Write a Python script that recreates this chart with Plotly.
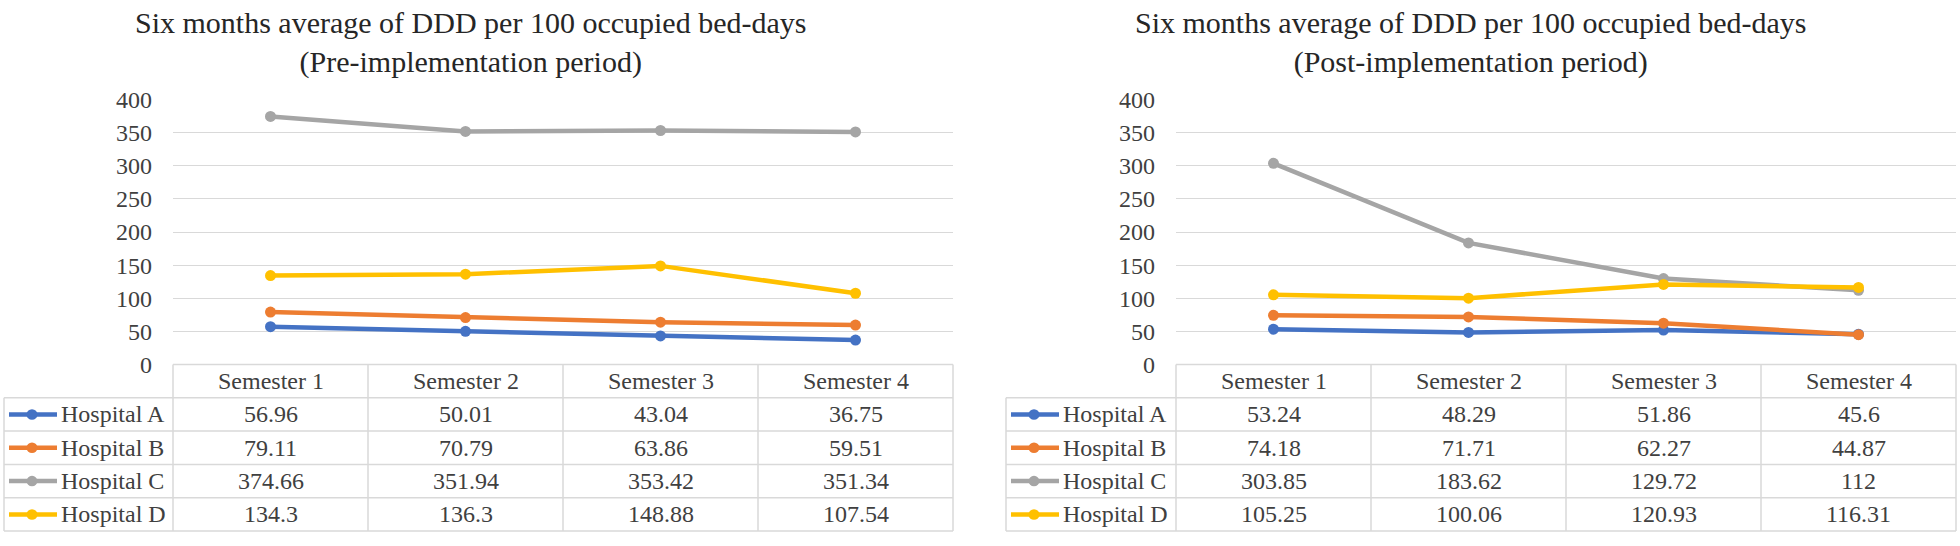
import plotly.graph_objects as go

# ---------------- data ----------------
semesters = ["Semester 1", "Semester 2", "Semester 3", "Semester 4"]
hospitals = ["Hospital A", "Hospital B", "Hospital C", "Hospital D"]

pre_a = [56.96, 50.01, 43.04, 36.75]
pre_b = [79.11, 70.79, 63.86, 59.51]
pre_c = [374.66, 351.94, 353.42, 351.34]
pre_d = [134.3, 136.3, 148.88, 107.54]

post_a = [53.24, 48.29, 51.86, 45.6]
post_b = [74.18, 71.71, 62.27, 44.87]
post_c = [303.85, 183.62, 129.72, 112]
post_d = [105.25, 100.06, 120.93, 116.31]

titles = [
    "Six months average of DDD per 100 occupied bed-days<br>(Pre-implementation period)",
    "Six months average of DDD per 100 occupied bed-days<br>(Post-implementation period)",
]
y_ticks = [0, 50, 100, 150, 200, 250, 300, 350, 400]

colors = ["#4472C4", "#ED7D31", "#A5A5A5", "#FFC000"]

# ---------------- layout helpers ----------------
W, H = 1960, 546
FONT = "Liberation Serif"
TXT = "#404040"
GRID = "#d9d9d9"


def px(x):
    return x / W


def py(y):
    return 1 - y / H


panels = [
    dict(series=[pre_a, pre_b, pre_c, pre_d], tbl_left=4, plot_left=173, title_cx=470),
    dict(series=[post_a, post_b, post_c, post_d], tbl_left=1006, plot_left=1176, title_cx=1470),
]
COLW = 195
ROWS = [369, 404, 439, 474, 509, 544]
Y_TOP, Y_ZERO = 91, 369

fig = go.Figure()
shapes = []
annotations = []

for i, p in enumerate(panels):
    xa = "x" if i == 0 else "x2"
    ya = "y" if i == 0 else "y2"
    for name, vals, col in zip(hospitals, p["series"], colors):
        fig.add_trace(go.Scatter(
            x=list(range(len(semesters))), y=vals, name=name,
            mode="lines+markers", xaxis=xa, yaxis=ya,
            line=dict(color=col, width=4.5),
            marker=dict(color=col, size=11),
            cliponaxis=False, showlegend=False,
        ))

    L = p["plot_left"]
    R = L + COLW * len(semesters)
    T0 = p["tbl_left"]

    # table grid
    shapes.append(dict(type="line", xref="paper", yref="paper",
                       x0=px(L), x1=px(R), y0=py(ROWS[0]), y1=py(ROWS[0]),
                       line=dict(color=GRID, width=1.5)))
    for r in ROWS[1:]:
        shapes.append(dict(type="line", xref="paper", yref="paper",
                           x0=px(T0), x1=px(R), y0=py(r), y1=py(r),
                           line=dict(color=GRID, width=1.5)))
    shapes.append(dict(type="line", xref="paper", yref="paper",
                       x0=px(T0), x1=px(T0), y0=py(ROWS[1]), y1=py(ROWS[-1]),
                       line=dict(color=GRID, width=1.5)))
    for k in range(len(semesters) + 1):
        xx = L + COLW * k
        shapes.append(dict(type="line", xref="paper", yref="paper",
                           x0=px(xx), x1=px(xx), y0=py(ROWS[0]), y1=py(ROWS[-1]),
                           line=dict(color=GRID, width=1.5)))

    # header
    for k, s in enumerate(semesters):
        annotations.append(dict(xref="paper", yref="paper",
                                x=px(L + COLW * k + COLW / 2), y=py((ROWS[0] + ROWS[1]) / 2),
                                text=s, showarrow=False, xanchor="center", yanchor="middle",
                                font=dict(family=FONT, size=24, color=TXT)))
    # rows
    for j, (name, vals, col) in enumerate(zip(hospitals, p["series"], colors)):
        yc = (ROWS[j + 1] + ROWS[j + 2]) / 2
        # legend key
        shapes.append(dict(type="line", xref="paper", yref="paper",
                           x0=px(T0 + 5), x1=px(T0 + 53), y0=py(yc), y1=py(yc),
                           line=dict(color=col, width=4.5)))
        shapes.append(dict(type="circle", xref="paper", yref="paper",
                           x0=px(T0 + 22.5), x1=px(T0 + 33.5), y0=py(yc - 5.5), y1=py(yc + 5.5),
                           fillcolor=col, line=dict(color=col, width=0)))
        annotations.append(dict(xref="paper", yref="paper",
                                x=px(T0 + 55), y=py(yc), text=name, showarrow=False,
                                xanchor="left", yanchor="middle",
                                font=dict(family=FONT, size=24, color=TXT)))
        for k, v in enumerate(vals):
            annotations.append(dict(xref="paper", yref="paper",
                                    x=px(L + COLW * k + COLW / 2), y=py(yc),
                                    text=f"{v:g}", showarrow=False,
                                    xanchor="center", yanchor="middle",
                                    font=dict(family=FONT, size=24, color=TXT)))
    # title
    annotations.append(dict(xref="paper", yref="paper",
                            x=px(p["title_cx"]), y=py(31), text=titles[i],
                            showarrow=False, xanchor="center", yanchor="middle",
                            align="center",
                            font=dict(family=FONT, size=30, color="#262626")))

axis_common_y = dict(range=[0, 400], tickvals=y_ticks, showgrid=True, gridcolor=GRID,
                     gridwidth=1.2, zeroline=False, showline=False, ticks="",
                     tickfont=dict(family=FONT, size=24, color=TXT),
                     ticklabelstandoff=20, fixedrange=True)
axis_common_x = dict(range=[-0.5, 3.5], showgrid=False, zeroline=False, showline=False,
                     showticklabels=False, ticks="", fixedrange=True)

fig.update_layout(
    width=W, height=H, margin=dict(l=0, r=0, t=0, b=0),
    paper_bgcolor="white", plot_bgcolor="white",
    xaxis=dict(domain=[px(173), px(173 + 4 * COLW)], anchor="y", **axis_common_x),
    yaxis=dict(domain=[py(Y_ZERO), py(Y_TOP)], anchor="x", **axis_common_y),
    xaxis2=dict(domain=[px(1176), px(1176 + 4 * COLW)], anchor="y2", **axis_common_x),
    yaxis2=dict(domain=[py(Y_ZERO), py(Y_TOP)], anchor="x2", **axis_common_y),
    shapes=shapes, annotations=annotations,
)

fig.write_html("out.html", config={"displayModeBar": False},
               post_script="document.documentElement.style.margin='0';"
                           "document.body.style.margin='0';"
                           "document.documentElement.style.overflow='hidden';"
                           "document.body.style.overflow='hidden';")
